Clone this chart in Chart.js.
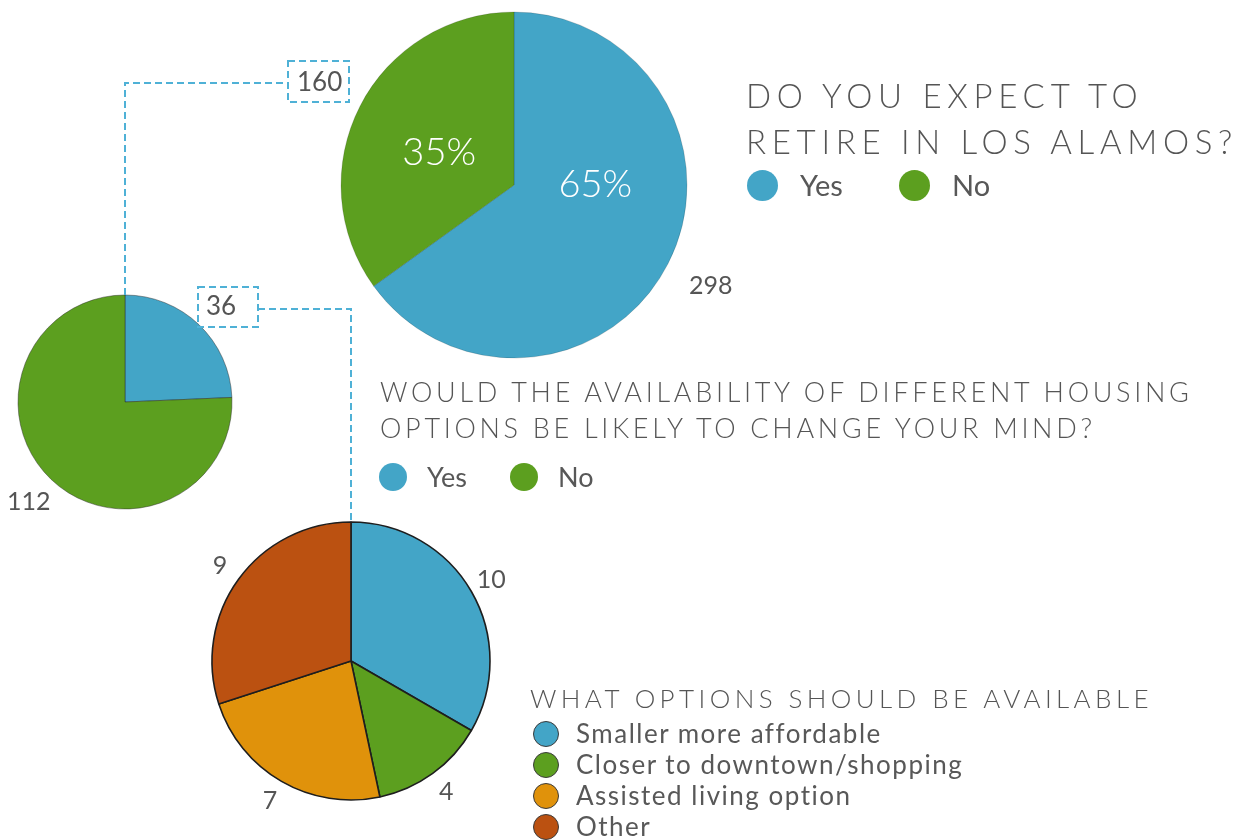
<!DOCTYPE html>
<html>
<head>
<meta charset="utf-8">
<title>Retirement survey</title>
<script src="https://cdn.jsdelivr.net/npm/chart.js@4.4.1/dist/chart.umd.min.js"></script>
<style>
  body { margin: 0; width: 1238px; height: 840px; overflow: hidden; background: #fff; position: relative;
         font-family: 'Lato', 'Open Sans', sans-serif; font-weight: 300; color: #555; }
  canvas.pie { position: absolute; }
  #links { position: absolute; left: 0; top: 0; pointer-events: none; }
  .title { position: absolute; white-space: nowrap; text-transform: uppercase; }
  .legend { position: absolute; display: flex; font-weight: 400; color: #585858; }
  .legend.col { flex-direction: column; }
  .item { display: flex; align-items: center; white-space: nowrap; }
  .dot { border-radius: 50%; flex: none; box-sizing: border-box; }
</style>
</head>
<body>
<canvas class="pie" id="retirePie" width="520" height="520" style="left:254px;top:-75px"></canvas>
<canvas class="pie" id="changePie" width="320" height="320" style="left:-35px;top:242px"></canvas>
<canvas class="pie" id="optionPie" width="400" height="400" style="left:151px;top:461px"></canvas>
<canvas id="links" width="1238" height="840"></canvas>

<div class="title" style="left:746px;top:72px;font-size:33px;line-height:46px;letter-spacing:5.7px">Do you expect to<br>retire in Los Alamos?</div>
<div class="legend" id="retireLegend" style="left:747px;top:165px"></div>

<div class="title" style="left:380px;top:374px;font-size:27px;line-height:36px;letter-spacing:3.7px">Would the availability of different housing<br>options be likely to change your mind?</div>
<div class="legend" id="changeLegend" style="left:379px;top:459px"></div>

<div class="title" style="left:530px;top:680px;font-size:26px;line-height:36px;letter-spacing:4.4px">What options should be available</div>
<div class="legend col" id="optionLegend" style="left:533px;top:718px;letter-spacing:1.5px"></div>

<script>
// survey answers
const retireLabels = ['Yes', 'No'];
const retireCounts = [298, 160];

const changeLabels = ['Yes', 'No'];
const changeCounts = [36, 112];

const optionLabels = ['Smaller more affordable', 'Closer to downtown/shopping', 'Assisted living option', 'Other'];
const optionCounts = [10, 4, 7, 9];

const BLUE = '#43a5c7';
const GREEN = '#5c9f1f';
const ORANGE = '#e0920b';
const RUST = '#bb5111';
const GREY = '#555';

// writes text next to slices: at a fraction of the radius plus a gap, optionally rotated a bit
const sliceLabels = {
  id: 'sliceLabels',
  afterDatasetsDraw(chart, args, opts) {
    const ctx = chart.ctx;
    const arcs = chart.getDatasetMeta(0).data;
    const values = chart.data.datasets[0].data;
    const total = values.reduce((a, b) => a + b, 0);
    ctx.save();
    ctx.textAlign = 'center';
    ctx.textBaseline = 'middle';
    (opts.items || []).forEach((item) => {
      ctx.font = item.font;
      ctx.fillStyle = item.color;
      arcs.forEach((arc, i) => {
        if (item.only && !item.only.includes(i)) return;
        const shift = ((item.shift && item.shift[i]) || 0) * Math.PI / 180;
        const mid = (arc.startAngle + arc.endAngle) / 2 + shift;
        const d = arc.outerRadius * item.at + (item.gap || 0);
        ctx.fillText(item.text(values[i], total), arc.x + Math.cos(mid) * d, arc.y + Math.sin(mid) * d);
      });
    });
    ctx.restore();
  }
};

function makePie(id, labels, counts, colors, radius, border, items) {
  return new Chart(document.getElementById(id), {
    type: 'pie',
    data: {
      labels,
      datasets: [{ data: counts, backgroundColor: colors, borderColor: border.color, borderWidth: border.width, radius }]
    },
    options: {
      responsive: false,
      animation: false,
      events: [],
      layout: { padding: 0 },
      plugins: { legend: { display: false }, tooltip: { enabled: false }, sliceLabels: { items } }
    },
    plugins: [sliceLabels]
  });
}

const countText = (v) => String(v);
const pctText = (v, total) => Math.round(v / total * 100) + '%';

const retireChart = makePie('retirePie', retireLabels, retireCounts, [BLUE, GREEN], 173,
  { color: 'rgba(0,0,0,0.15)', width: 1 }, [
    { text: pctText, at: 0.47, shift: [-27, -4], font: '300 38px Lato', color: '#fff' },
    { text: countText, at: 1, gap: 48, only: [0], font: '400 25px Lato', color: GREY }
  ]);

const changeChart = makePie('changePie', changeLabels, changeCounts, [BLUE, GREEN], 107,
  { color: 'rgba(40,40,40,0.45)', width: 1 }, [
    { text: countText, at: 1, gap: 32, only: [1], font: '400 25px Lato', color: GREY }
  ]);

const optionChart = makePie('optionPie', optionLabels, optionCounts, [BLUE, GREEN, ORANGE, RUST], 139,
  { color: '#1e1e1e', width: 1.6 }, [
    { text: countText, at: 1, gap: 23, font: '400 25px Lato', color: GREY }
  ]);

function fillLegend(id, labels, colors, opts) {
  const box = document.getElementById(id);
  labels.forEach((label, i) => {
    const item = document.createElement('div');
    item.className = 'item';
    item.style.height = opts.row + 'px';
    if (opts.width) item.style.width = opts.width + 'px';
    const dot = document.createElement('span');
    dot.className = 'dot';
    dot.style.width = dot.style.height = opts.dot + 'px';
    dot.style.background = colors[i];
    if (opts.outline) dot.style.border = '1.5px solid #3a3a3a';
    dot.style.marginRight = opts.gap + 'px';
    const txt = document.createElement('span');
    txt.textContent = label;
    txt.style.fontSize = opts.font + 'px';
    txt.style.lineHeight = opts.row + 'px';
    item.append(dot, txt);
    box.append(item);
  });
}

fillLegend('retireLegend', retireLabels, [BLUE, GREEN], { row: 40, width: 152, dot: 31, gap: 22, font: 29 });
fillLegend('changeLegend', changeLabels, [BLUE, GREEN], { row: 36, width: 131, dot: 28, gap: 20, font: 27 });
fillLegend('optionLegend', optionLabels, [BLUE, GREEN, ORANGE, RUST], { row: 31, dot: 26, gap: 17, font: 26, outline: true });

// top point of a pie in page coordinates
function pieTop(chart) {
  const arc = chart.getDatasetMeta(0).data[0];
  return { x: chart.canvas.offsetLeft + arc.x, y: chart.canvas.offsetTop + arc.y - arc.outerRadius };
}

// dashed connectors: the "No" share of the big pie feeds the middle pie, its "Yes" share the bottom pie
function drawLinks() {
  const ctx = document.getElementById('links').getContext('2d');
  const midTop = pieTop(changeChart);
  const lowTop = pieTop(optionChart);
  ctx.strokeStyle = '#4fb1d6';
  ctx.lineWidth = 2;
  ctx.setLineDash([7, 4]);

  const boxA = { x: 288, y: 61, w: 61, h: 41 };
  const boxB = { x: 198, y: 287, w: 60, h: 40 };

  ctx.beginPath();
  ctx.moveTo(midTop.x, midTop.y);
  ctx.lineTo(midTop.x, 83);
  ctx.lineTo(boxA.x, 83);
  ctx.stroke();
  ctx.strokeRect(boxA.x, boxA.y, boxA.w, boxA.h);

  ctx.beginPath();
  ctx.moveTo(boxB.x + boxB.w, 309);
  ctx.lineTo(lowTop.x, 309);
  ctx.lineTo(lowTop.x, lowTop.y);
  ctx.stroke();
  ctx.strokeRect(boxB.x, boxB.y, boxB.w, boxB.h);

  ctx.setLineDash([]);
  ctx.fillStyle = GREY;
  ctx.font = '400 26px Lato';
  ctx.textBaseline = 'middle';
  ctx.fillText(String(retireCounts[1]), boxA.x + 9, boxA.y + boxA.h / 2 + 1);
  ctx.fillText(String(changeCounts[0]), boxB.x + 8, boxB.y + boxB.h / 2);
}
drawLinks();
</script>
</body>
</html>
